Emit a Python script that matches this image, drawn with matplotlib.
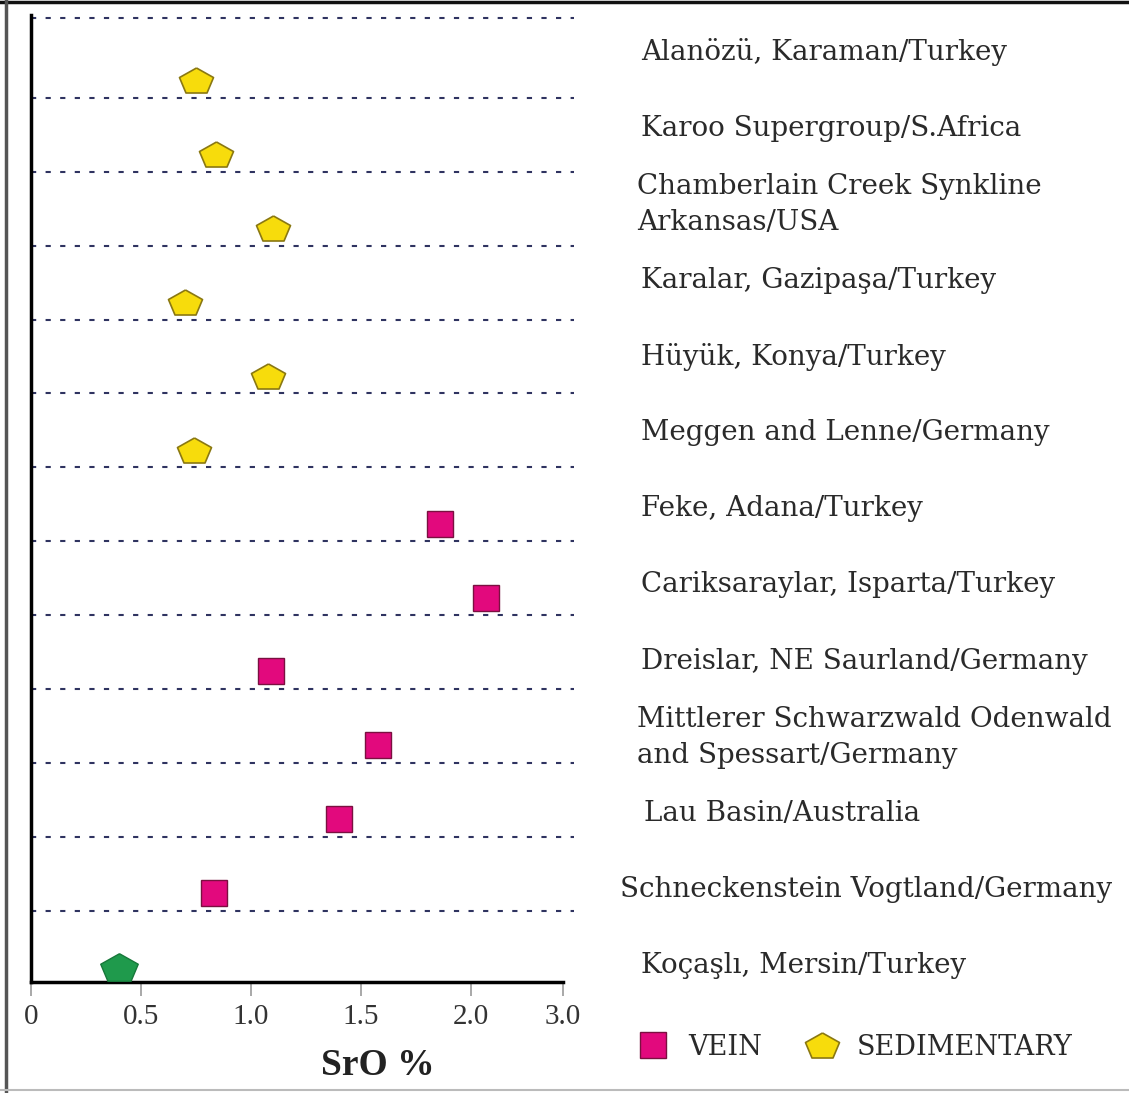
import numpy as np
import matplotlib
matplotlib.use("Agg")
import matplotlib.pyplot as plt
import matplotlib.transforms as mtransforms
from matplotlib.lines import Line2D

# Localities, top to bottom
localities = [
    "Alanözü, Karaman/Turkey",
    "Karoo Supergroup/S.Africa",
    "Chamberlain Creek Synkline\nArkansas/USA",
    "Karalar, Gazipaşa/Turkey",
    "Hüyük, Konya/Turkey",
    "Meggen and Lenne/Germany",
    "Feke, Adana/Turkey",
    "Cariksaraylar, Isparta/Turkey",
    "Dreislar, NE Saurland/Germany",
    "Mittlerer Schwarzwald Odenwald\nand Spessart/Germany",
    "Lau Basin/Australia",
    "Schneckenstein Vogtland/Germany",
    "Koçaşlı, Mersin/Turkey",
]
sro = [0.75, 0.84, 1.10, 0.70, 1.08, 0.74, 1.86, 2.07, 1.09, 1.58, 1.40, 0.83, 0.40]
deposit = ["sed", "sed", "sed", "sed", "sed", "sed",
           "vein", "vein", "vein", "vein", "vein", "vein", "study"]

tick_pos = [0, 0.5, 1.0, 1.5, 2.0, 2.42]
tick_labels = ["0", "0.5", "1.0", "1.5", "2.0", "3.0"]

SED_FC, SED_EC = "#f7dc0c", "#8a7812"
VEIN_FC, VEIN_EC = "#e2097d", "#7a1040"
STUDY_FC, STUDY_EC = "#1f9a4c", "#17783a"

# flattened pentagon marker
ang = np.deg2rad(90 + 72 * np.arange(5))
pent = np.column_stack([np.cos(ang), np.sin(ang) * 0.773])
pent[:, 1] -= (pent[:, 1].max() + pent[:, 1].min()) / 2
pent = np.vstack([pent, pent[:1]])

styles = {
    "sed":   dict(marker=pent, ms=24.5, mfc=SED_FC, mec=SED_EC, mew=1.2),
    "vein":  dict(marker="s", ms=19, mfc=VEIN_FC, mec=VEIN_EC, mew=1.0),
    "study": dict(marker=pent, ms=27, mfc=STUDY_FC, mec=STUDY_EC, mew=1.0),
}

fig = plt.figure(figsize=(11.29, 10.93), dpi=100)
ax = fig.add_axes([0.0275, 0.1016, 0.4712, 0.8847])

n = len(localities)
rows = np.arange(n)
ax.set_xlim(0, 2.42)
ax.set_ylim(12.2, -0.88)

# dotted separators
line_y = [-0.84] + [r + 0.24 for r in rows[:-1]]
ax.hlines(line_y, 0, 2.47, colors="#2f3360", lw=1.5,
          linestyles=(0, (2.5, 4.5)), clip_on=False, zorder=1)

for r, v, d in zip(rows, sro, deposit):
    ax.plot(v, r, ls="none", zorder=3, clip_on=False, **styles[d])

# labels at the right (spread a bit wider than the rows)
trans = mtransforms.blended_transform_factory(ax.transAxes, ax.transData)
x_over = {11: 1.107, 2: 1.139, 9: 1.139, 10: 1.152}
for i, name in enumerate(localities):
    yc = i * 1.03 - 0.38
    ax.text(x_over.get(i, 1.147), yc, name, transform=trans, ha="left",
            va="center", fontsize=20, family="DejaVu Serif", color="#2a2a2a",
            linespacing=1.45)

for s in ["top", "right"]:
    ax.spines[s].set_visible(False)
ax.spines["left"].set_linewidth(2.5)
ax.spines["bottom"].set_linewidth(2.5)
ax.set_yticks([])
ax.set_xticks(tick_pos)
ax.set_xticklabels(tick_labels, family="Liberation Serif", fontsize=21, color="#333333")
ax.tick_params(axis="x", direction="out", length=10, width=1.2, color="#999999", pad=6)
ax.set_xlabel("SrO %", family="Liberation Serif", fontsize=27, fontweight="bold",
              color="#222222")
ax.xaxis.set_label_coords(0.652, -0.068)

handles = [
    Line2D([], [], ls="none", **styles["vein"]),
    Line2D([], [], ls="none", **styles["sed"]),
]
fig.legend(handles, ["VEIN", "SEDIMENTARY"], loc="center", bbox_to_anchor=(0.757, 0.042),
           ncol=2, frameon=False, prop=dict(family="DejaVu Serif", size=19.5),
           labelcolor="#2a2a2a", handletextpad=0.7, columnspacing=1.6, handlelength=1.2)

# frame of the original figure
fig.add_artist(Line2D([0, 1], [0.998, 0.998], color="#111111", lw=2.5))
fig.add_artist(Line2D([0.005, 0.005], [0, 1], color="#555555", lw=2.5))
fig.add_artist(Line2D([0, 1], [0.003, 0.003], color="#bbbbbb", lw=1.5))

fig.savefig("out.png", dpi=100)
